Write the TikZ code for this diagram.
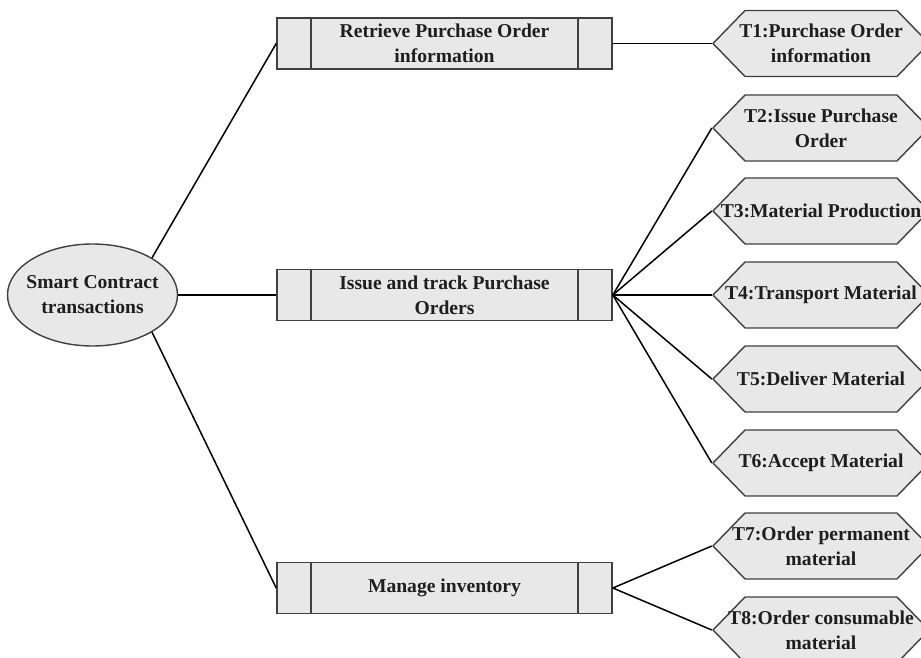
\documentclass[tikz,border=0pt]{standalone}
\usepackage{fontspec}
\setmainfont{Liberation Serif}
\usetikzlibrary{shapes.geometric}
\definecolor{boxfill}{HTML}{E8E8E8}
\definecolor{boxline}{HTML}{404040}
\definecolor{inktext}{HTML}{1E1E1E}
\begin{document}
\begin{tikzpicture}[x=1pt,y=-1pt,
  every node/.style={font=\bfseries\fontsize{19.6}{25}\selectfont, text=inktext,
    align=center, inner sep=0pt},
  root/.style={ellipse, draw=boxline, fill=boxfill, line width=1.4pt,
    inner xsep=-8pt, inner ysep=14pt,
    minimum width=170pt, minimum height=102pt},
  procbox/.style={rectangle, draw=boxline, fill=boxfill, line width=1.6pt,
    minimum width=335pt, minimum height=51pt,
    path picture={
      \draw[boxline, line width=1.4pt]
        ([xshift=34pt]path picture bounding box.north west) --
        ([xshift=34pt]path picture bounding box.south west);
      \draw[boxline, line width=1.4pt]
        ([xshift=-34pt]path picture bounding box.north east) --
        ([xshift=-34pt]path picture bounding box.south east);
    }},
  task/.style={rectangle, minimum width=218pt, minimum height=68pt,
    path picture={
      \filldraw[draw=boxline, fill=boxfill, line width=1.4pt]
        ([xshift=1pt]path picture bounding box.west) --
        ([xshift=33pt,yshift=-1pt]path picture bounding box.north west) --
        ([xshift=-33pt,yshift=-1pt]path picture bounding box.north east) --
        ([xshift=-1pt]path picture bounding box.east) --
        ([xshift=-33pt,yshift=1pt]path picture bounding box.south east) --
        ([xshift=33pt,yshift=1pt]path picture bounding box.south west) -- cycle;
    }},
  link/.style={draw=black, line width=1.5pt}
]
\clip (0,0) rectangle (921,658);
\fill[white] (0,0) rectangle (921,658);

% root
\node[root] (root) at (92.5,295) {Smart Contract\\transactions};

% functional groups
\node[procbox] (b1) at (444.5,43.5) {Retrieve Purchase Order\\information};
\node[procbox] (b2) at (444.5,295) {Issue and track Purchase\\Orders};
\node[procbox] (b3) at (444.5,588) {Manage inventory};

% transactions
\node[task] (t1) at (821,43.5) {T1:Purchase Order\\information};
\node[task] (t2) at (821,128) {T2:Issue Purchase\\Order};
\node[task] (t3) at (821,211) {T3:Material Production};
\node[task] (t4) at (821,295) {T4:Transport Material};
\node[task] (t5) at (821,379) {T5:Deliver Material};
\node[task] (t6) at (821,463) {T6:Accept Material};
\node[task] (t7) at (821,546) {T7:Order permanent\\material};
\node[task] (t8) at (821,630) {T8:Order consumable\\material};

% connectors
\draw[link] (root.32) -- (b1.west);
\draw[link] (root.east) -- (b2.west);
\draw[link] (root.-32) -- (b3.west);
\draw[link] (b1.east) -- (t1.west);
\foreach \t in {t2,t3,t4,t5,t6} \draw[link] (b2.east) -- (\t.west);
\foreach \t in {t7,t8} \draw[link] (b3.east) -- (\t.west);
\end{tikzpicture}
\end{document}
